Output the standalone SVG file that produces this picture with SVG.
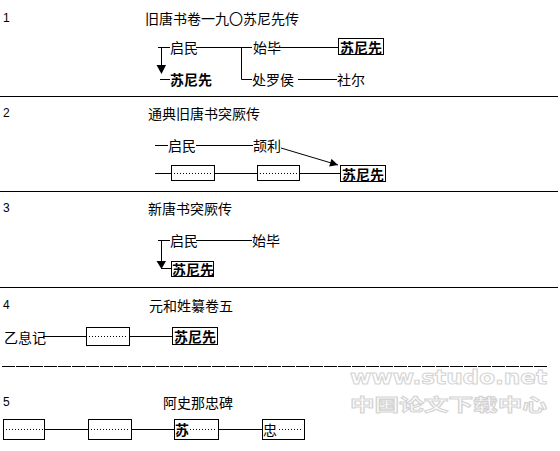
<svg xmlns="http://www.w3.org/2000/svg" width="560" height="451" viewBox="0 0 560 451">
<defs>
<style>
.t{font-family:"Noto Sans CJK SC","Liberation Sans",sans-serif;font-size:14px;fill:#000;dominant-baseline:central}
.b{font-weight:bold}
.n{font-family:"Liberation Sans",sans-serif;font-size:12px;fill:#000}
.l{stroke:#000;stroke-width:1;fill:none}
.box{stroke:#000;stroke-width:1;fill:#fff}
.dot{stroke:#000;stroke-width:1;stroke-dasharray:1 2;fill:none}
.wm{font-family:"DejaVu Sans",sans-serif;font-weight:bold;fill:#fff;stroke:#d4d4d4;stroke-width:1}
</style>
<marker id="ah" viewBox="0 0 10 10" refX="10" refY="5" markerWidth="10" markerHeight="8" markerUnits="userSpaceOnUse" orient="auto">
<path d="M0,0 L10,5 L0,10 Z" fill="#000"/>
</marker>
</defs>
<rect width="560" height="451" fill="#fff"/>

<g id="separators">
<line class="l" x1="0" y1="96.5" x2="558" y2="96.5"/>
<line class="l" x1="0" y1="191.5" x2="558" y2="191.5"/>
<line class="l" x1="0" y1="287.5" x2="558" y2="287.5"/>
<line class="l" x1="2" y1="366.5" x2="547" y2="366.5" stroke-dasharray="13 1"/>
</g>

<g id="section1">
<text class="n" x="3" y="22">1</text>
<text class="t" x="145" y="18">旧唐书卷一九〇苏尼先传</text>
<g id="s1-qimin"><text class="t" x="170" y="47">启民</text></g>
<g id="s1-shibi"><text class="t" x="253" y="47">始毕</text></g>
<g id="s1-suni-box"><rect class="box" x="338.5" y="38.5" width="45" height="16"/><text class="t b" x="340" y="47">苏尼先</text></g>
<g id="s1-suni"><text class="t b" x="170" y="79">苏尼先</text></g>
<g id="s1-chuluo"><text class="t" x="252" y="79">处罗侯</text></g>
<g id="s1-sheer"><text class="t" x="337" y="79">社尔</text></g>
</g>

<g id="section2">
<text class="n" x="3" y="117">2</text>
<text class="t" x="148" y="113">通典旧唐书突厥传</text>
<g id="s2-qimin"><text class="t" x="168" y="145">启民</text></g>
<g id="s2-jieli"><text class="t" x="253" y="145">颉利</text></g>
<g id="s2-box1"><rect class="box" x="171.5" y="165.5" width="43" height="15"/><line class="dot" x1="174" y1="173.5" x2="212" y2="173.5"/></g>
<g id="s2-box2"><rect class="box" x="257.5" y="165.5" width="42" height="15"/><line class="dot" x1="260" y1="173.5" x2="297" y2="173.5"/></g>
<g id="s2-suni-box"><rect class="box" x="340.5" y="165.5" width="45" height="16"/><text class="t b" x="342" y="174">苏尼先</text></g>
</g>

<g id="section3">
<text class="n" x="3" y="212">3</text>
<text class="t" x="148" y="208">新唐书突厥传</text>
<g id="s3-qimin"><text class="t" x="170" y="240">启民</text></g>
<g id="s3-shibi"><text class="t" x="252" y="240">始毕</text></g>
<g id="s3-suni-box"><rect class="box" x="171.5" y="261.5" width="42" height="15"/><text class="t b" x="172" y="269">苏尼先</text></g>
</g>

<g id="section4">
<text class="n" x="3" y="309">4</text>
<text class="t" x="149" y="305">元和姓纂卷五</text>
<g id="s4-yixiji"><text class="t" x="4" y="337">乙息记</text></g>
<g id="s4-box1"><rect class="box" x="86.5" y="327.5" width="43" height="18"/><line class="dot" x1="89" y1="336.5" x2="127" y2="336.5"/></g>
<g id="s4-suni-box"><rect class="box" x="172.5" y="327.5" width="45" height="17"/><text class="t b" x="174" y="336">苏尼先</text></g>
</g>

<g id="section5">
<text class="n" x="3" y="406">5</text>
<text class="t" x="163" y="402">阿史那忠碑</text>
<g id="s5-box1"><rect class="box" x="3.5" y="419.5" width="41" height="20"/><line class="dot" x1="6" y1="429.5" x2="43" y2="429.5"/></g>
<g id="s5-box2"><rect class="box" x="88.5" y="419.5" width="43" height="20"/><line class="dot" x1="91" y1="429.5" x2="129" y2="429.5"/></g>
<g id="s5-box3"><rect class="box" x="174.5" y="419.5" width="44" height="20"/><text class="t b" x="175" y="429">苏</text><line class="dot" x1="190" y1="429.5" x2="216" y2="429.5"/></g>
<g id="s5-box4"><rect class="box" x="262.5" y="419.5" width="42" height="20"/><text class="t" x="263" y="429">忠</text><line class="dot" x1="279" y1="429.5" x2="302" y2="429.5"/></g>
</g>

<g id="connectors">
<line class="l" x1="161.5" y1="47.5" x2="161.5" y2="66"/>
<path d="M156.5,65 L166,65 L161.5,74 Z" fill="#000"/>
<line class="l" x1="158" y1="47.5" x2="170" y2="47.5"/>
<line class="l" x1="196" y1="47.5" x2="252" y2="47.5"/>
<line class="l" x1="241.5" y1="47.5" x2="241.5" y2="79.5"/>
<line class="l" x1="276" y1="47.5" x2="338" y2="47.5"/>
<line class="l" x1="160" y1="79.5" x2="170" y2="79.5"/>
<line class="l" x1="241.5" y1="79.5" x2="252" y2="79.5"/>
<line class="l" x1="298" y1="79.5" x2="337" y2="79.5"/>
<line class="l" x1="155" y1="145.5" x2="168" y2="145.5"/>
<line class="l" x1="196" y1="145.5" x2="253" y2="145.5"/>
<line class="l" x1="281" y1="148" x2="338" y2="165" marker-end="url(#ah)"/>
<line class="l" x1="155" y1="173.5" x2="171" y2="173.5"/>
<line class="l" x1="215" y1="173.5" x2="257" y2="173.5"/>
<line class="l" x1="300" y1="173.5" x2="340" y2="173.5"/>
<line class="l" x1="161.5" y1="240.5" x2="161.5" y2="262"/>
<path d="M156.5,261 L166,261 L161.5,269 Z" fill="#000"/>
<line class="l" x1="158" y1="240.5" x2="170" y2="240.5"/>
<line class="l" x1="196" y1="240.5" x2="252" y2="240.5"/>
<line class="l" x1="161" y1="268.5" x2="171" y2="268.5"/>
<line class="l" x1="43" y1="336.5" x2="86" y2="336.5"/>
<line class="l" x1="130" y1="336.5" x2="172" y2="336.5"/>
<line class="l" x1="45" y1="429.5" x2="88" y2="429.5"/>
<line class="l" x1="132" y1="429.5" x2="174" y2="429.5"/>
<line class="l" x1="219" y1="429.5" x2="262" y2="429.5"/>
</g>

<g id="watermark">
<text class="wm" x="350" y="384" font-size="19" textLength="197" lengthAdjust="spacingAndGlyphs">www.studo.net</text>
<text class="wm" x="350" y="411" font-size="17" textLength="197" lengthAdjust="spacingAndGlyphs" style="font-family:'Noto Sans CJK SC',sans-serif">中国论文下载中心</text>
</g>
</svg>
